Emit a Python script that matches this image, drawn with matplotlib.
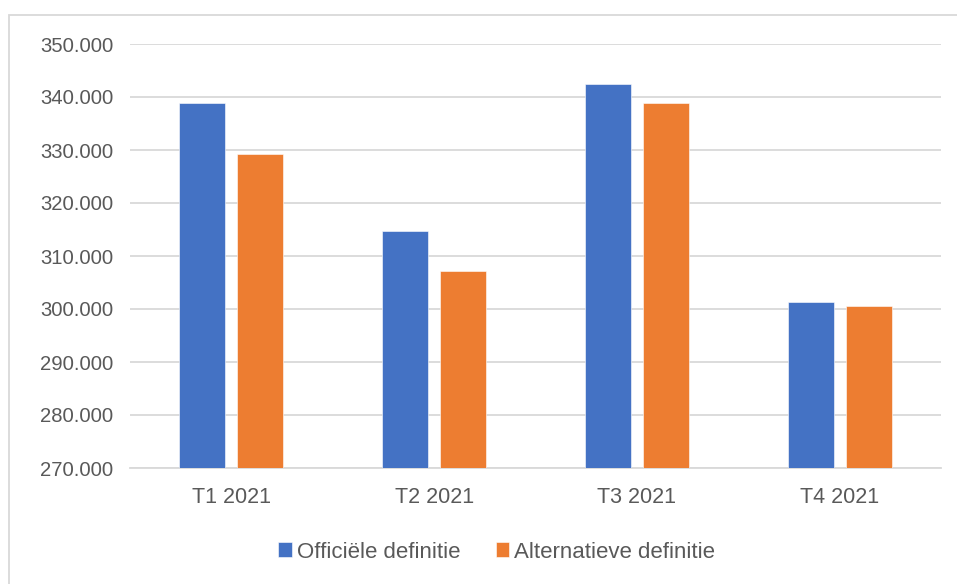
import numpy as np
import matplotlib.pyplot as plt
from matplotlib.patches import Rectangle
from matplotlib.ticker import FuncFormatter

# Data
categories = ["T1 2021", "T2 2021", "T3 2021", "T4 2021"]
officiele = [338900, 314700, 342500, 301250]
alternatief = [329300, 307200, 338900, 300550]
series_names = ["Officiële definitie", "Alternatieve definitie"]

blue = "#4472C4"
orange = "#ED7D31"
grid_color = "#D9D9D9"
text_color = "#595959"

plt.rcParams['font.family'] = ['Liberation Sans', 'DejaVu Sans']


def dutch_thousands(value, pos):
    return f"{int(round(value)):,}".replace(",", ".")


def main():
    fig = plt.figure(figsize=(9.57, 5.84), dpi=100)
    ax = fig.add_axes([130 / 957, 1 - 468 / 584, (941 - 130) / 957, (468 - 44) / 584])

    # Outer chart border (cut off at right and bottom in the reference)
    fig.patches.append(Rectangle((9 / 957, -0.1), 1.2, 1 - 15 / 584 + 0.1,
                                 transform=fig.transFigure, fill=False,
                                 edgecolor=grid_color, linewidth=1.3))

    x = np.arange(len(categories))
    width = 0.227
    offset = 0.143

    ax.bar(x - offset, officiele, width, color=blue, label=series_names[0],
           edgecolor="white", linewidth=0.4, zorder=3)
    ax.bar(x + offset, alternatief, width, color=orange, label=series_names[1],
           edgecolor="white", linewidth=0.4, zorder=3)

    ax.set_xlim(-0.5, len(categories) - 0.5)
    ax.set_ylim(270000, 350000)
    ax.set_yticks(np.arange(270000, 350001, 10000))
    ax.yaxis.set_major_formatter(FuncFormatter(dutch_thousands))
    ax.set_xticks(x)
    ax.set_xticklabels(categories)

    ax.grid(axis='y', color=grid_color, linewidth=1.3, zorder=0)
    ax.set_axisbelow(True)
    for side in ["top", "right", "left"]:
        ax.spines[side].set_visible(False)
    ax.spines["bottom"].set_color(grid_color)
    ax.spines["bottom"].set_linewidth(1.3)

    ax.tick_params(axis='both', length=0, colors=text_color)
    ax.tick_params(axis='y', pad=12, labelsize=14.6)
    ax.tick_params(axis='x', pad=14, labelsize=15.5)

    fig.legend(loc="center", bbox_to_anchor=(0.519, 1 - 552 / 584), ncol=2,
               frameon=False, fontsize=16, labelcolor=text_color,
               handlelength=0.62, handleheight=0.62, handletextpad=0.2,
               columnspacing=1.6)

    fig.savefig("out.png", dpi=100)


if __name__ == "__main__":
    main()
